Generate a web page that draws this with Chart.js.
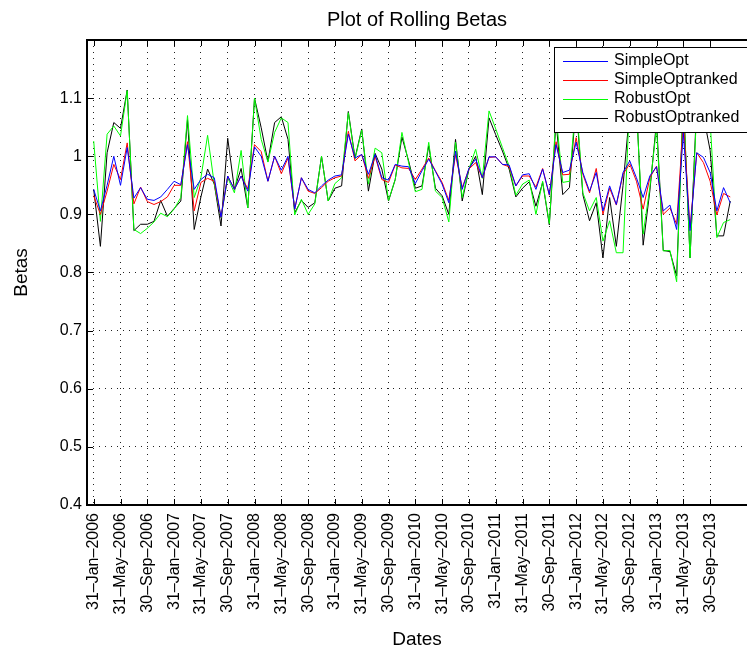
<!DOCTYPE html>
<html>
<head>
<meta charset="utf-8">
<script src="https://cdn.jsdelivr.net/npm/chart.js@4.4.1/dist/chart.umd.min.js"></script>
<style>
  html, body { margin: 0; padding: 0; background: #fff; }
  #wrap { width: 747px; height: 656px; position: relative; }
</style>
</head>
<body>
<div id="wrap"><canvas id="betaChart"></canvas></div>
<script>
// tick labels, one every 4 months (month index 0 = Jan 2006)
const dateLabels = [
  '31–Jan–2006', '31–May–2006', '30–Sep–2006',
  '31–Jan–2007', '31–May–2007', '30–Sep–2007',
  '31–Jan–2008', '31–May–2008', '30–Sep–2008',
  '31–Jan–2009', '31–May–2009', '30–Sep–2009',
  '31–Jan–2010', '31–May–2010', '30–Sep–2010',
  '31–Jan–2011', '31–May–2011', '30–Sep–2011',
  '31–Jan–2012', '31–May–2012', '30–Sep–2012',
  '31–Jan–2013', '31–May–2013', '30–Sep–2013'
];
const yTicks = [0.4, 0.5, 0.6, 0.7, 0.8, 0.9, 1.0, 1.1];

// monthly rolling betas, Jan 2006 .. Dec 2013
const simpleOpt = [
  0.943, 0.906, 0.950, 1.000, 0.950, 1.015, 0.928, 0.946, 0.926, 0.924, 0.930, 0.943,
  0.957, 0.951, 1.020, 0.943, 0.960, 0.969, 0.963, 0.895, 0.966, 0.943, 0.966, 0.940,
  1.016, 1.000, 0.957, 1.000, 0.976, 1.000, 0.909, 0.963, 0.943, 0.937, 0.949, 0.959,
  0.966, 0.968, 1.038, 0.997, 1.003, 0.969, 1.003, 0.963, 0.959, 0.986, 0.983, 0.982,
  0.953, 0.975, 0.995, 0.974, 0.952, 0.920, 1.009, 0.943, 0.979, 0.995, 0.963, 0.999,
  0.999, 0.986, 0.985, 0.949, 0.968, 0.970, 0.943, 0.978, 0.934, 1.020, 0.972, 0.976,
  1.024, 0.972, 0.940, 0.972, 0.906, 0.949, 0.917, 0.972, 0.992, 0.963, 0.929, 0.966,
  0.982, 0.906, 0.916, 0.874, 1.040, 0.872, 1.006, 0.998, 0.972, 0.906, 0.946, 0.920
];
const simpleOptRanked = [
  0.932, 0.900, 0.940, 0.986, 0.960, 1.023, 0.918, 0.947, 0.922, 0.917, 0.922, 0.930,
  0.950, 0.950, 1.025, 0.906, 0.955, 0.962, 0.957, 0.895, 0.966, 0.943, 0.966, 0.944,
  1.020, 1.008, 0.957, 1.000, 0.970, 0.997, 0.909, 0.963, 0.940, 0.936, 0.946, 0.957,
  0.963, 0.966, 1.043, 0.992, 1.003, 0.962, 1.000, 0.960, 0.955, 0.985, 0.980, 0.979,
  0.960, 0.978, 0.997, 0.975, 0.955, 0.924, 1.003, 0.946, 0.978, 0.989, 0.963, 0.998,
  0.999, 0.986, 0.982, 0.949, 0.966, 0.966, 0.947, 0.979, 0.933, 1.025, 0.968, 0.969,
  1.032, 0.969, 0.937, 0.979, 0.900, 0.945, 0.916, 0.969, 0.987, 0.957, 0.909, 0.963,
  0.983, 0.900, 0.911, 0.883, 1.060, 0.877, 1.006, 0.989, 0.957, 0.899, 0.936, 0.930
];
const robustOpt = [
  1.026, 0.888, 1.038, 1.052, 1.035, 1.113, 0.874, 0.867, 0.876, 0.887, 0.902, 0.896,
  0.909, 0.929, 1.070, 0.929, 0.963, 1.036, 0.952, 0.894, 0.963, 0.937, 1.010, 0.911,
  1.100, 1.029, 0.990, 1.041, 1.066, 1.058, 0.899, 0.926, 0.900, 0.918, 1.000, 0.923,
  0.953, 0.963, 1.075, 0.995, 1.045, 0.952, 1.014, 1.006, 0.924, 0.960, 1.041, 0.989,
  0.939, 0.943, 1.024, 0.940, 0.929, 0.887, 1.024, 0.929, 0.978, 1.012, 0.962, 1.078,
  1.047, 1.015, 0.983, 0.933, 0.952, 0.959, 0.900, 0.957, 0.884, 1.070, 0.955, 0.957,
  1.100, 0.937, 0.906, 0.929, 0.854, 0.889, 0.834, 0.834, 1.100, 1.080, 0.866, 0.946,
  1.050, 0.837, 0.838, 0.784, 1.100, 0.825, 1.080, 1.080, 1.060, 0.860, 0.886, 0.891
];
const robustOptRanked = [
  0.943, 0.845, 1.006, 1.058, 1.048, 1.114, 0.872, 0.883, 0.883, 0.888, 0.924, 0.897,
  0.910, 0.923, 1.063, 0.874, 0.930, 0.978, 0.952, 0.880, 1.031, 0.943, 0.979, 0.911,
  1.100, 1.049, 0.991, 1.058, 1.068, 1.029, 0.903, 0.924, 0.912, 0.920, 1.000, 0.923,
  0.945, 0.949, 1.077, 0.997, 1.047, 0.940, 1.005, 0.978, 0.923, 0.960, 1.033, 0.992,
  0.945, 0.949, 1.018, 0.945, 0.932, 0.900, 1.029, 0.923, 0.978, 1.000, 0.934, 1.066,
  1.037, 1.009, 0.978, 0.930, 0.945, 0.956, 0.914, 0.955, 0.882, 1.060, 0.934, 0.946,
  1.090, 0.934, 0.889, 0.920, 0.825, 0.929, 0.845, 0.950, 1.080, 1.090, 0.847, 0.940,
  1.060, 0.838, 0.836, 0.794, 1.100, 0.825, 1.090, 1.070, 1.010, 0.863, 0.863, 0.923
];

const FONT = "'Liberation Sans', Arial, Helvetica, sans-serif";

function toPoints(values) {
  return values.map((v, i) => ({ x: i, y: v }));
}

function makeSet(label, values, color) {
  return {
    label: label,
    data: toPoints(values),
    borderColor: color,
    backgroundColor: color,
    borderWidth: 1,
    pointRadius: 0,
    tension: 0,
    fill: false
  };
}

// MATLAB style frame : inward ticks, legend box, titles
const matlabFrame = {
  id: 'matlabFrame',
  afterDatasetsDraw(chart) {
    const ctx = chart.ctx;
    const a = chart.chartArea;
    const xs = chart.scales.x;
    const ys = chart.scales.y;

    // legend (drawn over the lines, like the original)
    const lx = 554, ly = 47, lw = 200, lh = 85;
    ctx.save();
    ctx.fillStyle = '#fff';
    ctx.fillRect(lx, ly, lw, lh);
    ctx.strokeStyle = '#000';
    ctx.lineWidth = 1;
    ctx.strokeRect(lx + 0.5, ly + 0.5, lw, lh);
    const rows = [60.5, 79.5, 99, 118];
    chart.data.datasets.forEach((ds, k) => {
      const ry = Math.round(rows[k]) + 0.5;
      ctx.strokeStyle = ds.borderColor;
      ctx.beginPath();
      ctx.moveTo(563, ry);
      ctx.lineTo(608, ry);
      ctx.stroke();
      ctx.fillStyle = '#000';
      ctx.font = '16px ' + FONT;
      ctx.textAlign = 'left';
      ctx.textBaseline = 'middle';
      ctx.fillText(ds.label, 614, rows[k]);
    });
    ctx.restore();

    // inward ticks
    ctx.save();
    ctx.strokeStyle = '#000';
    ctx.lineWidth = 1;
    ctx.beginPath();
    xs.ticks.forEach(t => {
      const px = Math.round(xs.getPixelForValue(t.value)) + 0.5;
      ctx.moveTo(px, a.bottom);
      ctx.lineTo(px, a.bottom - 6);
      ctx.moveTo(px, a.top);
      ctx.lineTo(px, a.top + 6);
    });
    ys.ticks.forEach(t => {
      const py = Math.round(ys.getPixelForValue(t.value)) + 0.5;
      ctx.moveTo(a.left, py);
      ctx.lineTo(a.left + 6, py);
    });
    ctx.stroke();

    // axes box (right side falls outside the picture)
    ctx.lineWidth = 2;
    ctx.beginPath();
    ctx.moveTo(a.right + 5, a.top);
    ctx.lineTo(a.left, a.top);
    ctx.lineTo(a.left, a.bottom);
    ctx.lineTo(a.right + 5, a.bottom);
    ctx.stroke();

    // titles
    ctx.fillStyle = '#000';
    ctx.textAlign = 'center';
    ctx.textBaseline = 'middle';
    ctx.font = '20px ' + FONT;
    ctx.fillText('Plot of Rolling Betas', (a.left + a.right) / 2, 20);
    ctx.font = '19px ' + FONT;
    ctx.fillText('Dates', (a.left + a.right) / 2, 640);
    ctx.translate(22, (a.top + a.bottom) / 2);
    ctx.rotate(-Math.PI / 2);
    ctx.fillText('Betas', 0, 0);
    ctx.restore();
  }
};

const ctx = document.getElementById('betaChart').getContext('2d');

const betaChart = new Chart(ctx, {
  type: 'line',
  data: {
    datasets: [
      makeSet('SimpleOpt', simpleOpt, 'rgb(0,0,255)'),
      makeSet('SimpleOptranked', simpleOptRanked, 'rgb(255,0,0)'),
      makeSet('RobustOpt', robustOpt, 'rgb(0,255,0)'),
      makeSet('RobustOptranked', robustOptRanked, 'rgb(0,0,0)')
    ]
  },
  options: {
    responsive: true,
    maintainAspectRatio: false,
    animation: false,
    devicePixelRatio: 1,
    layout: { padding: { left: 0, top: 40, right: 0, bottom: 0 } },
    plugins: {
      legend: { display: false },
      title: { display: false },
      tooltip: { enabled: false }
    },
    scales: {
      x: {
        type: 'linear',
        min: -1,
        max: 97.5,
        afterFit(scale) { scale.height = 151; },
        afterBuildTicks(scale) {
          scale.ticks = dateLabels.map((_, k) => ({ value: k * 4 }));
        },
        ticks: {
          autoSkip: false,
          maxRotation: 90,
          minRotation: 90,
          padding: 8,
          color: '#000',
          font: { family: FONT, size: 16 },
          callback: (value) => dateLabels[Math.round(value / 4)]
        },
        grid: { color: '#222', lineWidth: 1, drawTicks: false },
        border: { display: false, dash: [1, 5] }
      },
      y: {
        type: 'linear',
        min: 0.4,
        max: 1.2,
        afterFit(scale) { scale.width = 87; },
        afterBuildTicks(scale) {
          scale.ticks = yTicks.map(v => ({ value: v }));
        },
        ticks: {
          padding: 5,
          color: '#000',
          font: { family: FONT, size: 16 },
          callback: (value) => String(Math.round(value * 10) / 10)
        },
        grid: { color: '#222', lineWidth: 1, drawTicks: false },
        border: { display: false, dash: [1, 5] }
      }
    }
  },
  plugins: [matlabFrame]
});
</script>
</body>
</html>
